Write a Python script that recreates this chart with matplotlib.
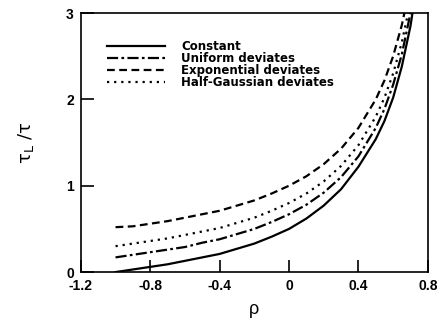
import matplotlib.pyplot as plt

rho = [-1.0, -0.9, -0.8, -0.7, -0.6, -0.5, -0.4, -0.3, -0.2, -0.1, 0.0,
       0.1, 0.2, 0.3, 0.4, 0.5, 0.55, 0.6, 0.65, 0.7, 0.75]
constant = [0.00, 0.03, 0.06, 0.09, 0.13, 0.17, 0.21, 0.27, 0.33, 0.41, 0.50,
            0.62, 0.77, 0.96, 1.22, 1.54, 1.75, 2.02, 2.38, 2.85, 3.50]
uniform = [0.17, 0.20, 0.23, 0.26, 0.29, 0.34, 0.38, 0.44, 0.50, 0.58, 0.67,
           0.78, 0.92, 1.10, 1.34, 1.67, 1.89, 2.17, 2.52, 3.00, 3.67]
exponential = [0.52, 0.53, 0.56, 0.59, 0.63, 0.67, 0.71, 0.77, 0.83, 0.91, 1.00,
               1.11, 1.25, 1.43, 1.67, 2.00, 2.22, 2.50, 2.86, 3.33, 4.00]
half_gauss = [0.30, 0.33, 0.36, 0.39, 0.43, 0.47, 0.51, 0.57, 0.63, 0.71, 0.80,
              0.91, 1.05, 1.23, 1.47, 1.80, 2.02, 2.30, 2.66, 3.13, 3.80]

xticks = [-1.2, -0.8, -0.4, 0, 0.4, 0.8]
xticklabels = ['-1.2', '-0.8', '-0.4', '0', '0.4', '0.8']
yticks = [0, 1, 2, 3]

plt.rcParams['font.family'] = ['Liberation Sans', 'DejaVu Sans']

fig = plt.figure(figsize=(4.37, 3.27), dpi=100)
ax = fig.add_axes([0.185, 0.168, 0.794, 0.792])

ax.plot(rho, constant, color='black', lw=1.6, ls='-', label='Constant')
ax.plot(rho, uniform, color='black', lw=1.6, ls=(0, (5, 1.5, 1.2, 1.5)), label='Uniform deviates')
ax.plot(rho, exponential, color='black', lw=1.6, ls=(0, (3.5, 2)), label='Exponential deviates')
ax.plot(rho, half_gauss, color='black', lw=1.6, ls=(0, (1, 2.2)), label='Half-Gaussian deviates')

ax.set_xlim(-1.2, 0.8)
ax.set_ylim(0, 3)
ax.set_xticks(xticks)
ax.set_xticklabels(xticklabels)
ax.set_yticks(yticks)
ax.tick_params(direction='in', length=9, width=1.2, labelsize=10, pad=5)
for lab in ax.get_xticklabels() + ax.get_yticklabels():
    lab.set_fontweight('bold')
for s in ax.spines.values():
    s.set_linewidth(1.2)

ax.set_xlabel('ρ', fontsize=13, labelpad=6)
ax.set_ylabel(r'$\mathrm{\tau_L\ /\tau}$', fontsize=13, labelpad=22)

ax.legend(loc='upper left', bbox_to_anchor=(0.075, 0.895), frameon=False,
          handlelength=4.9, handletextpad=1.4, labelspacing=-0.1,
          borderpad=0, borderaxespad=0,
          prop={'family': 'DejaVu Sans', 'weight': 'bold', 'size': 8.5})

fig.savefig('out.png', dpi=100)
